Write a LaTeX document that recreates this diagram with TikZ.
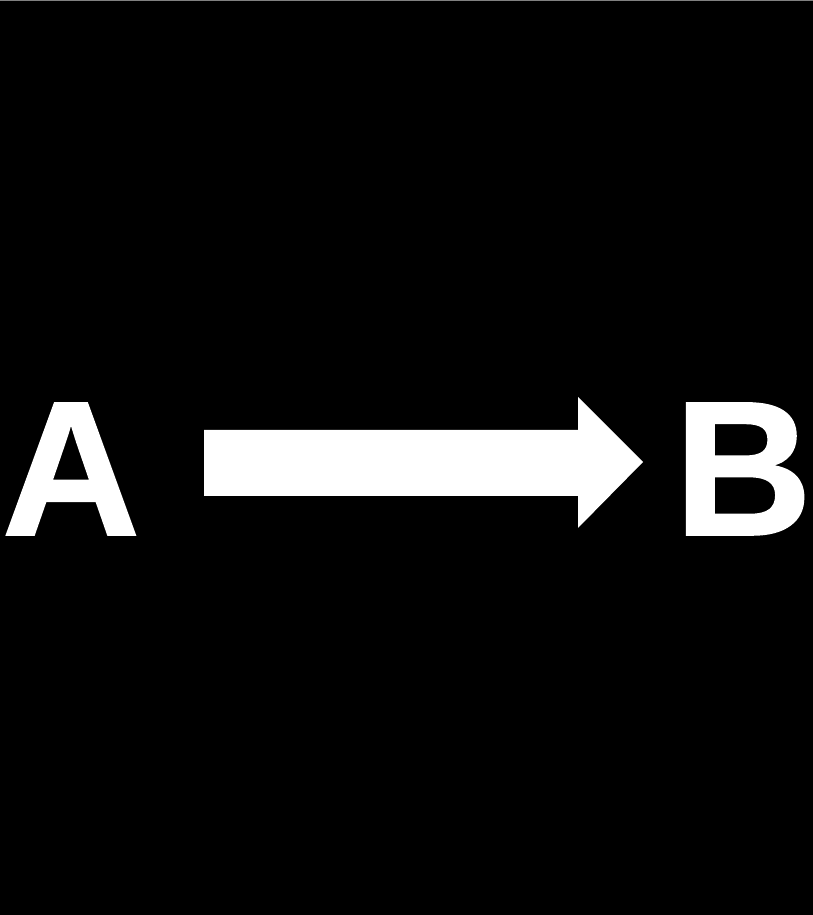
\documentclass[tikz,border=0pt]{standalone}
\usepackage{fontspec}
\newfontfamily\boldsans{Liberation Sans}[UprightFont={* Bold},FakeBold=0.8]
\begin{document}
\begin{tikzpicture}[x=1pt,y=1pt,
  letter/.style={text=white,inner sep=0pt,anchor=base,font=\boldsans\fontsize{192}{192}\selectfont},
  blockarrow/.style={fill=white,draw=none}]
\fill[black] (0,0) rectangle (813,915);
\useasboundingbox (0,0) rectangle (813,915);
\draw[gray,line width=1pt] (0,914.5) -- (813,914.5);
\node[letter] (A) at (71,380) {A};
\node[letter] (B) at (743,380) {B};
\coordinate (s) at (204,419);
\fill[blockarrow] (s) -- (578,419) -- (578,387) -- (643,453) -- (578,518) -- (578,485) -- (204,485) -- cycle;
\end{tikzpicture}
\end{document}
